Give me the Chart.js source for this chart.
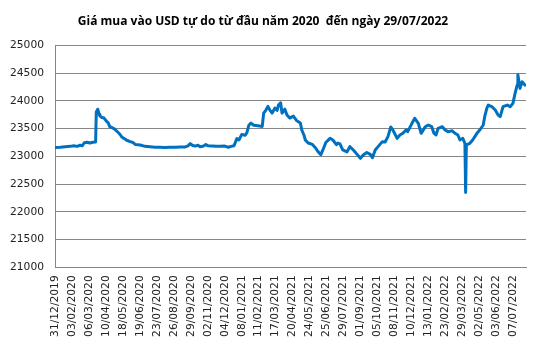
<!DOCTYPE html>
<html>
<head>
<meta charset="utf-8">
<script src="https://cdn.jsdelivr.net/npm/chart.js@4.4.1/dist/chart.umd.min.js"></script>
<style>
html,body{margin:0;padding:0;background:#fff;}
</style>
</head>
<body>
<canvas id="c" width="540" height="355"></canvas>
<script>
const titleText = 'Giá mua vào USD tự do từ đầu năm 2020  đến ngày 29/07/2022';
const tickLabels = ['31/12/2019','03/02/2020','06/03/2020','10/04/2020','18/05/2020','19/06/2020','23/07/2020','26/08/2020','29/09/2020','02/11/2020','04/12/2020','08/01/2021','11/02/2021','17/03/2021','20/04/2021','24/05/2021','25/06/2021','29/07/2021','01/09/2021','05/10/2021','08/11/2021','10/12/2021','13/01/2022','23/02/2022','29/03/2022','02/05/2022','03/06/2022','07/07/2022'];
const daysPerLabel = 24;
const totalDays = 667;
// trading-day index (0 = 31/12/2019) of each sampled point
const dayIdx = [0,7,14,21,26,31,35,38,41,45,49,53,57,58,60,62,63,66,69,72,75,77,80,84,89,92,94,99,101,106,110,113,117,120,127,134,141,148,155,162,170,177,184,188,191,194,198,202,205,209,213,216,222,228,233,240,245,249,253,257,260,264,269,271,274,277,281,287,293,295,298,301,304,307,311,314,316,319,321,325,328,332,337,342,347,349,352,354,358,364,368,372,376,379,383,389,393,398,400,403,407,413,417,422,427,432,436,441,446,449,453,457,463,467,471,475,478,484,488,492,497,499,505,509,514,518,524,528,533,536,539,542,548,552,556,562,566,570,573,577,580,581,582,587,591,597,601,606,608,611,613,618,623,627,630,634,640,644,648,651,654,655,658,661,665];
// buying price of free-market USD (VND)
const price = [23160,23165,23175,23180,23190,23180,23200,23190,23245,23255,23240,23255,23260,23800,23850,23760,23730,23700,23690,23640,23600,23535,23520,23490,23430,23390,23350,23310,23290,23265,23250,23215,23210,23205,23180,23175,23165,23165,23160,23165,23165,23170,23170,23190,23230,23200,23185,23200,23175,23180,23215,23190,23185,23180,23180,23185,23165,23180,23190,23320,23295,23395,23380,23420,23560,23600,23560,23550,23540,23780,23830,23900,23830,23780,23870,23830,23925,23965,23780,23850,23745,23690,23725,23640,23600,23475,23385,23295,23240,23215,23160,23085,23030,23120,23250,23325,23295,23210,23240,23225,23115,23080,23175,23115,23040,22965,23025,23070,23035,22975,23115,23175,23265,23260,23355,23530,23475,23325,23385,23415,23480,23445,23595,23685,23595,23415,23535,23565,23535,23420,23385,23505,23535,23475,23445,23460,23415,23385,23295,23325,23235,22350,23205,23235,23295,23415,23475,23565,23715,23865,23925,23895,23835,23745,23715,23895,23925,23895,23955,24135,24285,24470,24225,24345,24285];
const yMin = 21000, yMax = 25000, yStep = 500;

const points = price.map((v, i) => ({x: dayIdx[i], y: v}));

new Chart(document.getElementById('c'), {
  type: 'line',
  data: {
    datasets: [{
      data: points,
      borderColor: '#0070C0',
      borderWidth: 3,
      pointRadius: 0,
      tension: 0,
      borderJoinStyle: 'round',
      borderCapStyle: 'round',
      fill: false
    }]
  },
  options: {
    responsive: false,
    animation: false,
    layout: {padding: {left: 0, right: 14, top: 0, bottom: 0}},
    plugins: {
      legend: {display: false},
      tooltip: {enabled: false},
      title: {
        display: true,
        text: titleText,
        color: '#000',
        font: {family: 'Open Sans', size: 12, weight: 'bold'},
        padding: {top: 14, bottom: 17}
      }
    },
    scales: {
      x: {
        type: 'linear',
        min: -0.5,
        max: totalDays - 0.5,
        afterBuildTicks: (s) => { s.ticks = tickLabels.map((_, i) => ({value: i * daysPerLabel})); },
        afterFit: (s) => { s.height = 355 - 267.3 - 0; },
        grid: {display: false, drawTicks: false},
        border: {display: true, color: '#868686', width: 1},
        ticks: {
          autoSkip: false,
          minRotation: 90,
          maxRotation: 90,
          padding: 8,
          color: '#222',
          font: {family: 'DejaVu Sans', size: 10.7},
          callback: (v) => tickLabels[Math.round(v / daysPerLabel)]
        }
      },
      y: {
        min: yMin,
        max: yMax,
        afterFit: (s) => { s.width = 55; },
        grid: {color: '#868686', lineWidth: 1, drawTicks: false},
        border: {display: true, color: '#868686', width: 1},
        ticks: {
          stepSize: yStep,
          padding: 11,
          color: '#222',
          font: {family: 'DejaVu Sans', size: 10.7},
          callback: (v) => String(v)
        }
      }
    }
  }
});
</script>
</body>
</html>
